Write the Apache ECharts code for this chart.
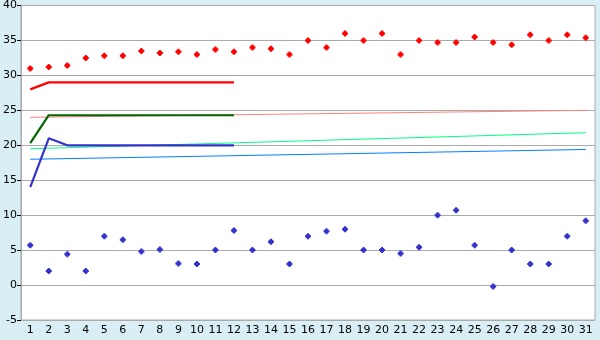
<!DOCTYPE html>
<html>
<head>
<meta charset="utf-8">
<script src="https://cdn.jsdelivr.net/npm/echarts@6/dist/echarts.min.js"></script>
<style>
html,body{margin:0;padding:0;background:#d9eff5;}
#c{width:600px;height:340px;}
</style>
</head>
<body>
<div id="c"></div>
<script>
var days = ['1','2','3','4','5','6','7','8','9','10','11','12','13','14','15','16','17','18','19','20','21','22','23','24','25','26','27','28','29','30','31'];
var yTicks = [-5, 0, 5, 10, 15, 20, 25, 30, 35, 40];
var redPoints = [31.0, 31.2, 31.4, 32.5, 32.8, 32.8, 33.5, 33.2, 33.4, 33.0, 33.7, 33.4, 34.0, 33.8, 33.0, 35.0, 34.0, 36.0, 35.0, 36.0, 33.0, 35.0, 34.7, 34.7, 35.5, 34.7, 34.4, 35.8, 35.0, 35.8, 35.4];
var bluePoints = [5.7, 2.0, 4.4, 2.0, 7.0, 6.5, 4.8, 5.1, 3.1, 3.0, 5.0, 7.8, 5.0, 6.2, 3.0, 7.0, 7.7, 8.0, 5.0, 5.0, 4.5, 5.4, 10.0, 10.7, 5.7, -0.2, 5.0, 3.0, 3.0, 7.0, 9.2];
var redLine = [28.0, 29.0, 29.0, 29.0, 29.0, 29.0, 29.0, 29.0, 29.0, 29.0, 29.0, 29.0];
var greenLine = [20.3, 24.3, 24.3, 24.3, 24.3, 24.3, 24.3, 24.3, 24.3, 24.3, 24.3, 24.3];
var blueLine = [14.0, 21.0, 20.0, 20.0, 20.0, 20.0, 20.0, 20.0, 20.0, 20.0, 20.0, 20.0];
// thin trend lines: only the end values are read; drawn straight between them
var pinkTrend = [24.0, null, null, null, null, null, null, null, null, null, null, null, null, null, null, null, null, null, null, null, null, null, null, null, null, null, null, null, null, null, 25.0];
var greenTrend = [19.5, null, null, null, null, null, null, null, null, null, null, null, null, null, null, null, null, null, null, null, null, null, null, null, null, null, null, null, null, null, 21.8];
var blueTrend = [18.0, null, null, null, null, null, null, null, null, null, null, null, null, null, null, null, null, null, null, null, null, null, null, null, null, null, null, null, null, null, 19.4];

var markPath = 'path://M2,0H4V1H5V2H6V4H5V5H4V6H2V5H1V4H0V2H1V1H2Z';
var font = 'DejaVu Sans';

function thin(data, color){
  return {type:'line', data:data, connectNulls:true, symbol:'none', silent:true, animation:false,
    lineStyle:{color:color, width:1}, z:2};
}
function thick(data, color){
  return {type:'line', data:data, symbol:'none', silent:true, animation:false,
    lineStyle:{color:color, width:2.2}, z:3};
}
function pts(data, color){
  return {type:'scatter', data:data, symbol:markPath, symbolSize:6, animation:false, silent:true,
    itemStyle:{color:color, opacity:1}, z:4};
}

var chart = echarts.init(document.getElementById('c'));
chart.setOption({
  backgroundColor:'#d9eff5',
  animation:false,
  grid:{left:20, right:5, top:5, bottom:20, show:true, backgroundColor:'#ffffff', borderColor:'#aaaaaa', borderWidth:1},
  xAxis:{type:'category', data:days, boundaryGap:true,
    axisLine:{lineStyle:{color:'#aaaaaa', width:1}},
    axisTick:{alignWithLabel:true, length:4, lineStyle:{color:'#000000'}},
    axisLabel:{interval:0, color:'#000000', fontFamily:font, fontSize:11, margin:5},
    splitLine:{show:false}},
  yAxis:{type:'value', min:yTicks[0], max:yTicks[yTicks.length-1], interval:5,
    axisLine:{show:true, lineStyle:{color:'#aaaaaa', width:1}},
    axisTick:{show:true, length:4, lineStyle:{color:'#000000'}},
    axisLabel:{color:'#000000', fontFamily:font, fontSize:11, margin:4},
    splitLine:{lineStyle:{color:'#aaaaaa', width:1}}},
  series:[
    thin(pinkTrend, '#ff8080'),
    thin(greenTrend, '#00ff80'),
    thin(blueTrend, '#0080ff'),
    thick(redLine, '#ff0000'),
    thick(greenLine, '#006600'),
    thick(blueLine, '#3333cc'),
    pts(redPoints, '#ff0000'),
    pts(bluePoints, '#3333cc')
  ]
});
</script>
</body>
</html>
